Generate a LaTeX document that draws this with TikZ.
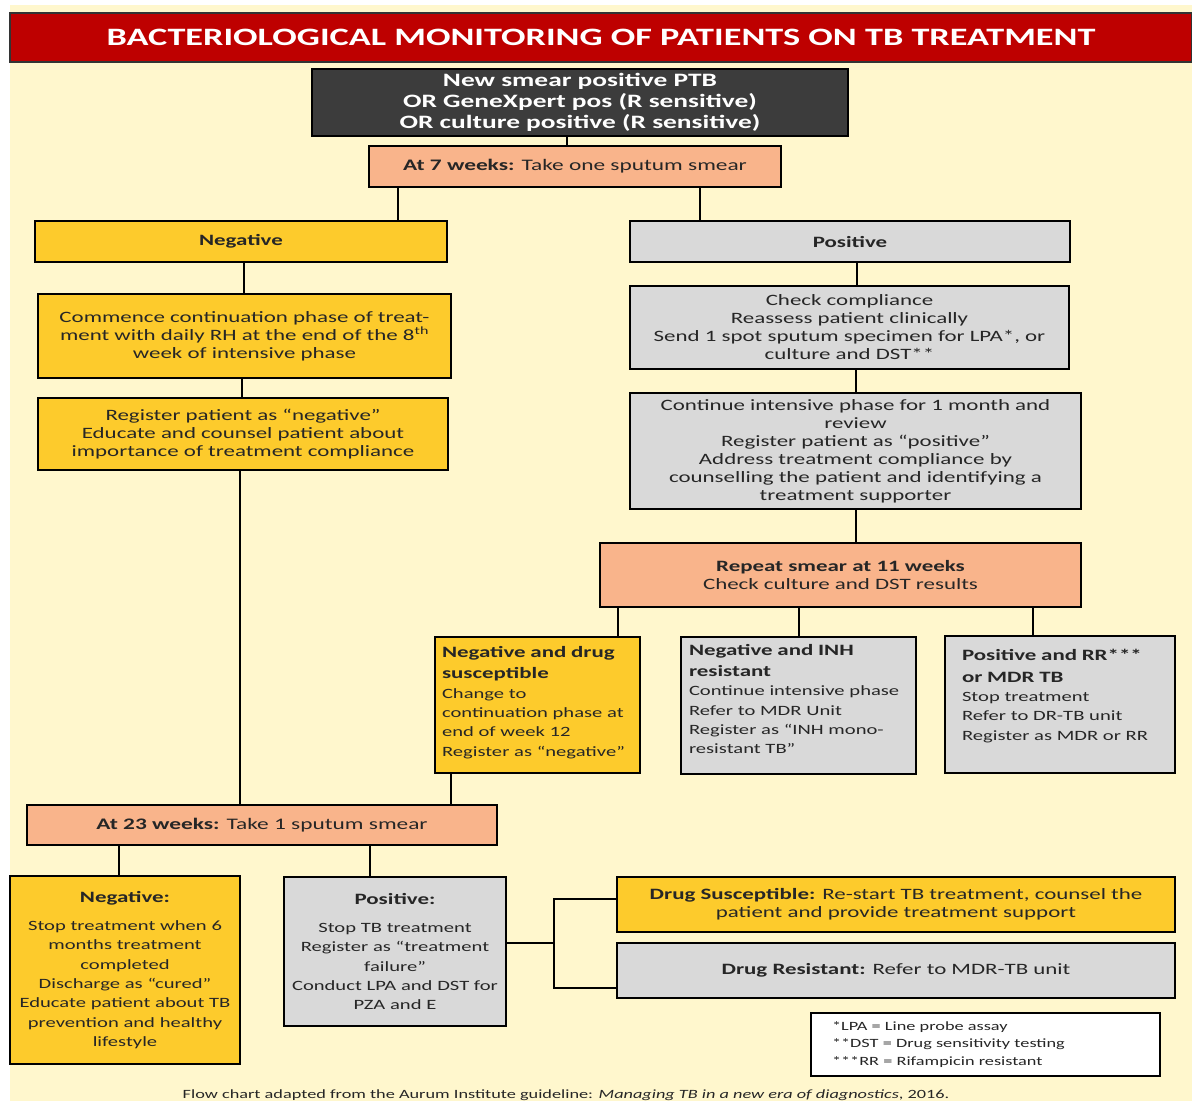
\documentclass[tikz,border=0pt]{standalone}
\usepackage{fontspec}
\setmainfont{Carlito}[FakeStretch=1.45]
\usepackage{tikz}
\usetikzlibrary{positioning}

\definecolor{titlered}{HTML}{BE0000}
\definecolor{cream}{HTML}{FFF7CD}
\definecolor{gold}{HTML}{FDCB2C}
\definecolor{lgray}{HTML}{D9D9D9}
\definecolor{salmon}{HTML}{F9B48B}
\definecolor{dgray}{HTML}{3C3C3C}
\definecolor{ink}{HTML}{262626}

\newcommand{\boxhead}[1]{{\bfseries\fontsize{15.8}{21}\selectfont #1}}

\tikzset{
    box/.style={draw=black, line width=2.6pt, inner sep=3pt, align=center,
        text=ink, font=\fontsize{15.8}{18}\selectfont},
    goldbox/.style={box, fill=gold},
    graybox/.style={box, fill=lgray},
    salmonbox/.style={box, fill=salmon},
    smalltext/.style={font=\fontsize{14.2}{19.3}\selectfont},
    listbox/.style={box, smalltext, align=left, inner xsep=8pt},
    link/.style={line width=2.6pt}
}

\begin{document}
\begin{tikzpicture}[x=1pt, y=-1pt]
    \useasboundingbox (0,0) rectangle (1192,1101);
    \fill[white] (0,0) rectangle (1192,1101);
    \fill[cream] (10,5) rectangle (1192,1101);

    % title bar
    \node (title) [draw=black!80, line width=1.2pt, fill=titlered, text=white,
        minimum width=1182pt, minimum height=49pt,
        font=\bfseries\fontsize{25}{28}\selectfont] at (601,37.5)
        {BACTERIOLOGICAL MONITORING OF PATIENTS ON TB TREATMENT};

    % start of the chart
    \node (start) [box, fill=dgray, text=white, minimum width=536pt, minimum height=67pt,
        font=\bfseries\fontsize{18.9}{21}\selectfont] at (580,102.5)
        {New smear positive PTB\\OR GeneXpert pos (R sensitive)\\OR culture positive (R sensitive)};
    \node (wk7) [salmonbox, minimum width=412pt, minimum height=41pt,
        font=\fontsize{16.1}{18}\selectfont] at (575,166.5)
        {\textbf{At 7 weeks:} Take one sputum smear};

    % negative branch
    \node (neg) [goldbox, minimum width=412pt, minimum height=41pt] at (241,241.5)
        {\textbf{Negative}};
    \node (commence) [goldbox, minimum width=413pt, minimum height=84pt] at (244.5,336)
        {Commence continuation phase of treat-\\ment with daily RH at the end of the 8\textsuperscript{th}\\week of intensive phase};
    \node (regneg) [goldbox, minimum width=410pt, minimum height=72pt] at (243,434)
        {Register patient as “negative”\\Educate and counsel patient about\\importance of treatment compliance};

    % positive branch
    \node (pos) [graybox, minimum width=440pt, minimum height=41pt] at (850,241.5)
        {\textbf{Positive}};
    \node (check) [graybox, minimum width=439pt, minimum height=83pt] at (849.5,327.5)
        {Check compliance\\Reassess patient clinically\\Send 1 spot sputum specimen for LPA*, or\\culture and DST**};
    \node (cont) [graybox, minimum width=451pt, minimum height=116pt] at (855.5,451)
        {Continue intensive phase for 1 month and\\review\\Register patient as “positive”\\Address treatment compliance by\\counselling the patient and identifying a\\treatment supporter};
    \node (rep11) [salmonbox, minimum width=481pt, minimum height=64pt] at (840.5,575)
        {\textbf{Repeat smear at 11 weeks}\\Check culture and DST results};

    % results at 11 weeks
    \node (negsus) [listbox, fill=gold, inner xsep=7pt, text width=191pt, minimum height=136pt] at (537.5,705)
        {\boxhead{Negative and drug}\\[2pt]\boxhead{susceptible}\\Change to\\continuation phase at\\end of week 12\\Register as “negative”\\[-12pt]\mbox{}};
    \node (neginh) [listbox, fill=lgray, text width=219pt, minimum height=137pt] at (798.5,705.5)
        {\boxhead{Negative and INH}\\[2pt]\boxhead{resistant}\\Continue intensive phase\\Refer to MDR Unit\\Register as “INH mono-\\resistant TB”\\[-6pt]\mbox{}};
    \node (posrr) [listbox, fill=lgray, inner xsep=17pt, text width=196pt, minimum height=137pt] at (1060,704.5)
        {\boxhead{Positive and RR***}\\[2pt]\boxhead{or MDR TB}\\Stop treatment\\Refer to DR-TB unit\\Register as MDR or RR\\\mbox{}};

    % 23 weeks
    \node (wk23) [salmonbox, minimum width=470pt, minimum height=40pt,
        font=\fontsize{16.1}{18}\selectfont] at (262,825)
        {\textbf{At 23 weeks:} Take 1 sputum smear};
    \node (neg23) [goldbox, smalltext, minimum width=230pt, minimum height=188pt, text width=222pt] at (125,970)
        {\boxhead{Negative:}\\[9pt]Stop treatment when 6\\months treatment\\completed\\Discharge as “cured”\\Educate patient about TB\\prevention and healthy\\lifestyle};
    \node (pos23) [graybox, smalltext, minimum width=222pt, minimum height=149pt, text width=216pt] at (395,951.5)
        {\boxhead{Positive:}\\[9pt]Stop TB treatment\\Register as “treatment\\failure”\\Conduct LPA and DST for\\PZA and E};
    \node (dsus) [goldbox, minimum width=558pt, minimum height=55pt] at (896,904.5)
        {\textbf{Drug Susceptible:} Re-start TB treatment, counsel the\\patient and provide treatment support};
    \node (dres) [graybox, minimum width=558pt, minimum height=55pt] at (896,970.5)
        {\textbf{Drug Resistant:} Refer to MDR-TB unit};

    % legend and source
    \node (legend) [draw=black, line width=2pt, fill=white, align=left, text=ink,
        minimum width=349pt, minimum height=63pt, inner xsep=21pt, inner ysep=0pt,
        text width=307pt, font=\fontsize{12.6}{17.5}\selectfont] at (985.5,1044.5)
        {*LPA = Line probe assay\\{}**DST = Drug sensitivity testing\\{}***RR = Rifampicin resistant};
    \node (source) [text=ink, font=\fontsize{12.6}{14}\selectfont] at (566,1095)
        {Flow chart adapted from the Aurum Institute guideline: \textit{Managing TB in a new era of diagnostics}, 2016.};

    % connectors
    \draw[link] ([xshift=-13pt]start.south) -- ([xshift=-8pt]wk7.north);
    \draw[link] (wk7.south -| 398,0) -- (neg.north -| 398,0);
    \draw[link] (wk7.south -| 700,0) -- (pos.north -| 700,0);
    \draw[link] (neg.south -| 244,0) -- (commence.north -| 244,0);
    \draw[link] (commence.south -| 242,0) -- (regneg.north -| 242,0);
    \draw[link] (regneg.south -| 240,0) -- (wk23.north -| 240,0);
    \draw[link] (pos.south -| 857,0) -- (check.north -| 857,0);
    \draw[link] (check.south -| 856,0) -- (cont.north -| 856,0);
    \draw[link] (cont.south -| 856,0) -- (rep11.north -| 856,0);
    \draw[link] (rep11.south -| 618,0) -- (negsus.north -| 618,0);
    \draw[link] (rep11.south -| 799,0) -- (neginh.north -| 799,0);
    \draw[link] (rep11.south -| 1033,0) -- (posrr.north -| 1033,0);
    \draw[link] (negsus.south -| 451,0) -- (wk23.north -| 451,0);
    \draw[link] (wk23.south -| 119,0) -- (neg23.north -| 119,0);
    \draw[link] (wk23.south -| 370,0) -- (pos23.north -| 370,0);

    % bracket to drug results
    \coordinate (br) at (554,943);
    \draw[link] ([yshift=8.5pt]pos23.east) -- (br);
    \draw[link] ([yshift=5.5pt]dsus.west) -| (br) |- ([yshift=-17.5pt]dres.west);
\end{tikzpicture}
\end{document}
